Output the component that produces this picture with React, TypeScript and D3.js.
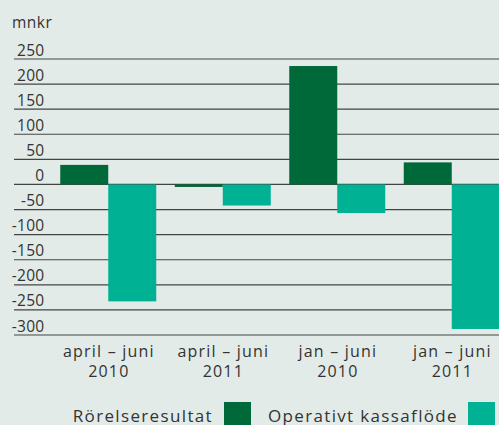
import React from "react";
import * as d3 from "d3";

const categories = [["april – juni", "2010"], ["april – juni", "2011"], ["jan – juni", "2010"], ["jan – juni", "2011"]];
const seriesNames = ["Rörelseresultat", "Operativt kassaflöde"];
const rorelseresultat = [39, -5, 236, 44];
const kassaflode = [-233, -42, -57, -288];
const yTicks = [250, 200, 150, 100, 50, 0, -50, -100, -150, -200, -250, -300];
const colors = ["#00693a", "#00b194"];

const W = 499;
const H = 425;
const FONT = "'Open Sans', 'DejaVu Sans', sans-serif";

export default function App() {
  const y = d3.scaleLinear().domain([-300, 250]).range([335, 59]);
  const keys = categories.map((c) => c.join(" "));
  const x = d3.scaleBand().domain(keys).range([51, 509]).paddingInner(0.1616).paddingOuter(0.0808);
  const xi = d3.scaleBand().domain(seriesNames).range([0, x.bandwidth()]);
  const series = [rorelseresultat, kassaflode];

  return (
    <div style={{ position: "fixed", left: 0, top: 0 }}>
      <svg width={W} height={H} style={{ display: "block", background: "#e3ebe8" }} fontFamily={FONT}>
        <rect width={W} height={H} fill="#e3ebe8" />
        <text x={12} y={28} fontSize={15.5} letterSpacing={0.5} fill="#333">mnkr</text>
        {yTicks.map((t) => (
          <g key={t}>
            <line x1={14} x2={W} y1={y(t)} y2={y(t)} stroke="#444" strokeWidth={1.2} />
            <text x={44.5} y={y(t) - 3.5} fontSize={15.5} letterSpacing={0.3} textAnchor="end" fill="#333">{t}</text>
          </g>
        ))}
        {keys.map((k, i) =>
          series.map((s, j) => {
            const v = s[i];
            const y0 = y(0);
            const yv = y(v);
            return (
              <rect
                key={k + j}
                x={(x(k) as number) + (xi(seriesNames[j]) as number)}
                width={xi.bandwidth()}
                y={Math.min(y0, yv)}
                height={Math.abs(yv - y0)}
                fill={colors[j]}
              />
            );
          })
        )}
        {keys.map((k, i) => {
          const cx = (x(k) as number) + x.bandwidth() / 2 + 0.6;
          return (
            <text key={k} textAnchor="middle" fontSize={16} letterSpacing={1.2} fill="#333">
              <tspan x={cx} y={356.5}>{categories[i][0]}</tspan>
              <tspan x={cx} y={376.5}>{categories[i][1]}</tspan>
            </text>
          );
        })}
        <text x={213} y={422} textAnchor="end" fontSize={17} letterSpacing={1.35} fill="#333">{seriesNames[0]}</text>
        <rect x={224} y={402} width={27} height={27} fill={colors[0]} />
        <text x={458} y={422} textAnchor="end" fontSize={17} letterSpacing={1.35} fill="#333">{seriesNames[1]}</text>
        <rect x={468} y={402} width={27} height={27} fill={colors[1]} />
      </svg>
    </div>
  );
}
